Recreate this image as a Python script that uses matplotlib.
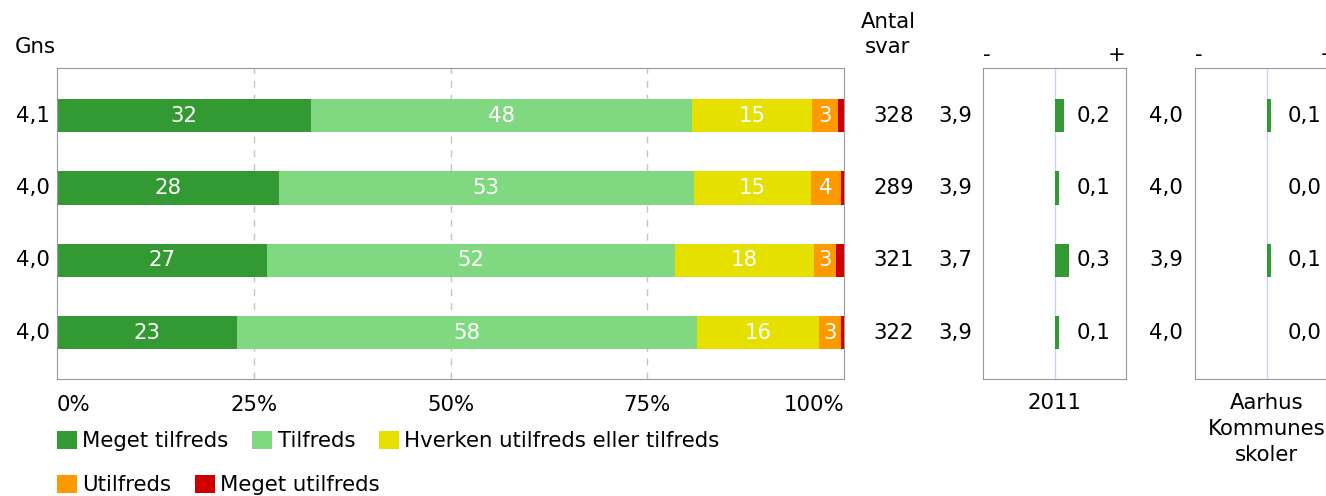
import numpy as np
from matplotlib import pyplot as plt
from matplotlib.patches import Patch
from matplotlib.transforms import blended_transform_factory

# Data
categories = ["Meget tilfreds", "Tilfreds", "Hverken utilfreds eller tilfreds",
              "Utilfreds", "Meget utilfreds"]
colorlist = ["#339933", "#80d880", "#e6e000", "#ff9900", "#cc0000"]
# Percent per row (top to bottom), one list per category
meget_tilfreds = [32.3, 28.2, 26.7, 22.9]
tilfreds = [48.4, 52.7, 51.8, 58.4]
hverken = [15.2, 14.9, 17.7, 15.5]
utilfreds = [3.3, 3.8, 2.8, 2.8]
meget_utilfreds = [0.8, 0.4, 1.0, 0.4]
gns = ["4,1", "4,0", "4,0", "4,0"]
antal_svar = [328, 289, 321, 322]
gns_2011 = ["3,9", "3,9", "3,7", "3,9"]
diff_2011 = [0.2, 0.1, 0.3, 0.1]
gns_aarhus = ["4,0", "4,0", "3,9", "4,0"]
diff_aarhus = [0.1, 0.0, 0.1, 0.0]
xticks = [0, 25, 50, 75, 100]
xticklabels = ["0%", "25%", "50%", "75%", "100%"]

W, H = 1326, 496
fs = 15.3
plt.rcParams['font.family'] = ['DejaVu Sans']
plt.rcParams['font.size'] = fs

fig = plt.figure(figsize=(W/100, H/100), dpi=100)

def box(l, t, r, b):
    return [l/W, 1 - b/H, (r - l)/W, (b - t)/H]

frame_col = "#999999"
ylim = (3.64, -0.66)
bh = 0.46
rows = np.arange(len(gns))

# Main stacked bar
ax = fig.add_axes(box(57, 68, 844, 379))
series = [meget_tilfreds, tilfreds, hverken, utilfreds, meget_utilfreds]
left = np.zeros(len(rows))
for vals, col in zip(series, colorlist):
    vals = np.array(vals)
    ax.barh(rows, vals, left=left, height=bh, color=col, zorder=2)
    for r, (l, v) in enumerate(zip(left, vals)):
        if v >= 2.5:
            ax.text(l + v/2, r, "%d" % round(v), color="white", ha="center",
                    va="center", fontsize=fs, zorder=3)
    left += vals
ax.set_xlim(0, 100)
ax.set_ylim(*ylim)
ax.set_yticks([])
ax.set_xticks([])
for x in xticks[1:-1]:
    ax.axvline(x, color="#c4c4c4", lw=1, ls=(0, (5, 5)), zorder=1)
for s in ax.spines.values():
    s.set_color(frame_col)
# x tick labels
for x, lab in zip(xticks, xticklabels):
    ha = "left" if x == 0 else ("right" if x == 100 else "center")
    ax.text(x, 4.0, lab, ha=ha, va="center", fontsize=fs,
            transform=ax.transData, clip_on=False)

trans = blended_transform_factory(fig.transFigure, ax.transData)
for r in rows:
    ax.text(50/W, r, gns[r], ha="right", va="center", transform=trans)
    ax.text(914/W, r, str(antal_svar[r]), ha="right", va="center", transform=trans)
    ax.text(972/W, r, gns_2011[r], ha="right", va="center", transform=trans)
    ax.text(1183/W, r, gns_aarhus[r], ha="right", va="center", transform=trans)
fig.text(15/W, 1 - 47/H, "Gns", ha="left", va="center")
fig.text(888/W, 1 - 22/H, "Antal", ha="center", va="center")
fig.text(888/W, 1 - 47/H, "svar", ha="center", va="center")

# Difference panels
def diff_panel(l, diffs, title, label_x):
    pax = fig.add_axes(box(l, 68, l + 143, 379))
    pax.barh(rows, diffs, height=bh, color=colorlist[0], zorder=2)
    pax.axvline(0, color="#d0d0f0", lw=1, zorder=1)
    pax.set_xlim(-1.5, 1.5)
    pax.set_ylim(*ylim)
    pax.set_xticks([])
    pax.set_yticks([])
    for s in pax.spines.values():
        s.set_color(frame_col)
    ptr = blended_transform_factory(pax.transAxes, pax.transData)
    for r, d in enumerate(diffs):
        pax.text(label_x, r, ("%.1f" % d).replace(".", ","), ha="left",
                 va="center", transform=ptr, clip_on=False)
    pax.text(4/143, 1 + 13/311, "-", ha="center", va="center",
             transform=pax.transAxes)
    pax.text(1 - 9/143, 1 + 13/311, "+", ha="center", va="center",
             transform=pax.transAxes)
    pax.text(0.5, -14/311, title, ha="center", va="top",
             transform=pax.transAxes, linespacing=1.36)
    return pax

diff_panel(983, diff_2011, "2011", (1077 - 983)/143)
diff_panel(1195, diff_aarhus, "Aarhus\nKommunes\nskoler", (1288 - 1195)/143)

# Legend, two flowing rows
handles = [Patch(facecolor=c, edgecolor="none") for c in colorlist]
leg_kw = dict(frameon=False, handlelength=0.95, handleheight=0.95,
              handletextpad=0.25, columnspacing=1.1, borderaxespad=0,
              borderpad=0, fontsize=fs)
fig.legend(handles[:3], categories[:3], ncol=3, loc="center left",
           bbox_to_anchor=(57/W, 1 - 441/H), **leg_kw)
fig.legend(handles[3:], categories[3:], ncol=2, loc="center left",
           bbox_to_anchor=(57/W, 1 - 485/H), **leg_kw)

fig.savefig("out.png", dpi=100)
